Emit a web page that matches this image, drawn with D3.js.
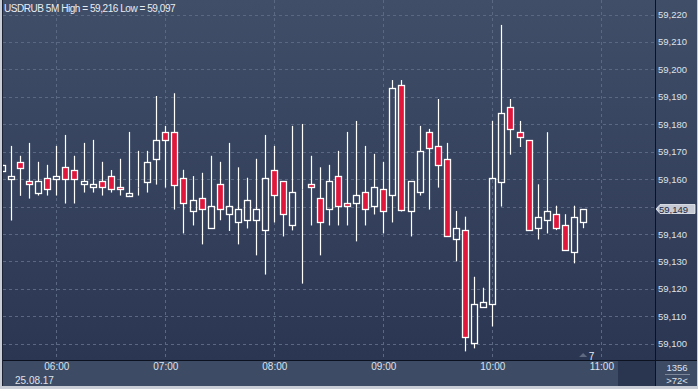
<!DOCTYPE html>
<html>
<head>
<meta charset="utf-8">
<script src="https://cdn.jsdelivr.net/npm/d3@7"></script>
<style>
  body { margin: 0; background: #c9cdd6; }
  text { font-family: "Liberation Sans", Arial, sans-serif; }
</style>
</head>
<body>
<div id="wrapper"></div>
<script>
// 5-minute candles, 25.08.17
const times = [
  "05:30","05:35","05:40","05:45","05:50","05:55",
  "06:00","06:05","06:10","06:15","06:20","06:25","06:30","06:35","06:40","06:45","06:50","06:55",
  "07:00","07:05","07:10","07:15","07:20","07:25","07:30","07:35","07:40","07:45","07:50","07:55",
  "08:00","08:05","08:10","08:15","08:20","08:25","08:30","08:35","08:40","08:45","08:50","08:55",
  "09:00","09:05","09:10","09:15","09:20","09:25","09:30","09:35","09:40","09:45","09:50","09:55",
  "10:00","10:05","10:10","10:15","10:20","10:25","10:30","10:35","10:40","10:45","10:50"
]
const opens = [
  59.1631,59.1602,59.1663,59.1593,59.1551,59.1603,
  59.1602,59.1643,59.1633,59.1582,59.1572,59.1593,59.1611,59.1572,59.1540,59.1571,59.1591,59.1672,
  59.1771,59.1771,59.1603,59.1483,59.1531,59.1421,59.1582,59.1472,59.1443,59.1450,59.1450,59.1414,
  59.1633,59.1593,59.1432,59.1565,59.1582,59.1531,59.1490,59.1611,59.1512,59.1512,59.1552,59.1501,
  59.1563,59.1541,59.1942,59.1483,59.1552,59.1771,59.1720,59.1673,59.1381,59.1414,59.1003,59.1134,
  59.1145,59.1591,59.1862,59.1771,59.1742,59.1421,59.1450,59.1472,59.1432,59.1334,59.1443
]
const highs = [
  59.1655,59.1721,59.1685,59.1732,59.1663,59.1652,
  59.1721,59.1761,59.1685,59.1732,59.1743,59.1663,59.1633,59.1674,59.1772,59.1703,59.1703,59.1903,
  59.1794,59.1913,59.1634,59.1611,59.1623,59.1685,59.1663,59.1732,59.1643,59.1605,59.1674,59.1761,
  59.1721,59.1593,59.1794,59.1801,59.1685,59.1643,59.1652,59.1703,59.1772,59.1812,59.1721,59.1692,
  59.1663,59.1961,59.1961,59.1592,59.1794,59.1783,59.1892,59.1732,59.1484,59.1463,59.1244,59.1204,
  59.1812,59.2162,59.1892,59.1812,59.1742,59.1581,59.1771,59.1503,59.1472,59.1503,59.1490
]
const lows = [
  59.1628,59.1449,59.1539,59.1529,59.1540,59.1540,
  59.1540,59.1511,59.1511,59.1551,59.1551,59.1540,59.1551,59.1540,59.1540,59.1540,59.1551,59.1580,
  59.1569,59.1489,59.1402,59.1431,59.1362,59.1421,59.1450,59.1411,59.1362,59.1420,59.1322,59.1252,
  59.1442,59.1391,59.1413,59.1219,59.1431,59.1322,59.1431,59.1431,59.1431,59.1373,59.1431,59.1471,
  59.1402,59.1442,59.1482,59.1391,59.1540,59.1489,59.1569,59.1391,59.1300,59.0972,59.0983,59.1134,
  59.1063,59.1500,59.1689,59.1717,59.1414,59.1380,59.1402,59.1414,59.1341,59.1293,59.1421
]
const closes = [
  59.1651,59.1611,59.1642,59.1582,59.1593,59.1563,
  59.1611,59.1602,59.1602,59.1593,59.1582,59.1572,59.1563,59.1563,59.1551,59.1572,59.1663,59.1742,
  59.1741,59.1580,59.1512,59.1523,59.1490,59.1501,59.1490,59.1501,59.1490,59.1523,59.1490,59.1603,
  59.1542,59.1472,59.1552,59.1565,59.1571,59.1443,59.1593,59.1501,59.1501,59.1543,59.1491,59.1571,
  59.1483,59.1931,59.1489,59.1592,59.1702,59.1713,59.1651,59.1392,59.1421,59.1024,59.1145,59.1152,
  59.1603,59.1840,59.1782,59.1753,59.1414,59.1461,59.1483,59.1421,59.1341,59.1461,59.1490
]
const priceTicks = [59.100,59.110,59.120,59.130,59.140,59.150,59.160,59.170,59.180,59.190,59.200,59.210,59.220]
const symbol = "USDRUB 5M"
const dateLabel = "25.08.17"
const lastPrice = 59.149
const barCount = "1356"
const zoomLabel = ">72<"
const markerLabel = "7"

function drawChart() {
  const parseTime = d3.timeParse("%H:%M")
  const dataset = times.map((t, i) => ({
    date: parseTime(t), open: opens[i], high: highs[i], low: lows[i], close: closes[i]
  }))

  const dimensions = {
    width: 698,
    height: 389,
    plotLeft: 3,
    plotRight: 655,
    plotTop: 0,
    plotBottom: 360,
    axisBottom: 386,
  }

  const wrapper = d3.select("#wrapper")
    .append("svg")
      .attr("width", dimensions.width)
      .attr("height", dimensions.height)
      .style("display", "block")

  const defs = wrapper.append("defs")
  const grad = defs.append("linearGradient").attr("id", "bg").attr("x1", 0).attr("x2", 0).attr("y1", 0).attr("y2", 1)
  grad.append("stop").attr("offset", "0%").attr("stop-color", "#404e68")
  grad.append("stop").attr("offset", "100%").attr("stop-color", "#2b3653")
  defs.append("clipPath").attr("id", "plot-clip")
    .append("rect")
      .attr("x", dimensions.plotLeft).attr("y", dimensions.plotTop)
      .attr("width", dimensions.plotRight - dimensions.plotLeft)
      .attr("height", dimensions.plotBottom - dimensions.plotTop)

  // panels
  wrapper.append("rect").attr("width", dimensions.width).attr("height", dimensions.height).attr("fill", "#c9cdd6")
  wrapper.append("rect")
    .attr("x", 2).attr("y", 0).attr("width", 695).attr("height", dimensions.axisBottom)
    .attr("fill", "#1b2233")
  wrapper.append("rect")
    .attr("x", dimensions.plotLeft).attr("y", 0)
    .attr("width", 694).attr("height", dimensions.plotBottom)
    .attr("fill", "url(#bg)")
  wrapper.append("rect")
    .attr("x", dimensions.plotLeft).attr("y", dimensions.plotBottom + 1)
    .attr("width", 694).attr("height", dimensions.axisBottom - dimensions.plotBottom - 1)
    .attr("fill", "#3e4b65")
  wrapper.append("rect")
    .attr("x", 618).attr("y", dimensions.plotBottom + 1)
    .attr("width", dimensions.plotRight - 618).attr("height", dimensions.axisBottom - dimensions.plotBottom - 1)
    .attr("fill", "#2a3550")
  wrapper.append("line")
    .attr("x1", dimensions.plotRight + 0.5).attr("x2", dimensions.plotRight + 0.5)
    .attr("y1", 0).attr("y2", dimensions.axisBottom)
    .attr("stroke", "#0d1220")
  wrapper.append("line")
    .attr("x1", dimensions.plotLeft).attr("x2", 697)
    .attr("y1", dimensions.plotBottom + 0.5).attr("y2", dimensions.plotBottom + 0.5)
    .attr("stroke", "#0d1220")

  // scales
  const t6 = parseTime("06:00")
  const xScale = d3.scaleTime()
    .domain([new Date(t6.getTime() - 31 * 60000), new Date(t6.getTime() + 329.56 * 60000)])
    .range([0, dimensions.plotRight])
  const yScale = d3.scaleLinear()
    .domain([59.100, 59.220])
    .range([343.7, 14.5])

  const hourTicks = xScale.ticks(d3.timeHour.every(1)).filter(d => xScale(d) > 10 && xScale(d) < 640)
  const priceFormat = v => d3.format(".3f")(v).replace(".", ",")

  // grid
  const grid = wrapper.append("g").attr("clip-path", "url(#plot-clip)")
  grid.selectAll(".hgrid").data(priceTicks).join("line")
    .attr("x1", dimensions.plotLeft).attr("x2", dimensions.plotRight)
    .attr("y1", d => Math.round(yScale(d)) + 0.5).attr("y2", d => Math.round(yScale(d)) + 0.5)
    .attr("stroke", "#5b6882").attr("stroke-dasharray", "3,3")
  grid.selectAll(".vgrid").data(hourTicks).join("line")
    .attr("x1", d => Math.round(xScale(d)) + 0.5).attr("x2", d => Math.round(xScale(d)) + 0.5)
    .attr("y1", 0).attr("y2", dimensions.plotBottom)
    .attr("stroke", "#5b6882").attr("stroke-dasharray", "3,3")

  // candles
  const bodyW = 6
  const candles = wrapper.append("g").attr("clip-path", "url(#plot-clip)")
    .selectAll("g").data(dataset).join("g")
  const cx = d => Math.round(xScale(d.date)) + 0.5
  const top = d => Math.round(yScale(Math.max(d.open, d.close))) + 0.5
  const bot = d => Math.round(yScale(Math.min(d.open, d.close))) + 0.5
  candles.append("line")
    .attr("x1", cx).attr("x2", cx)
    .attr("y1", d => yScale(d.high)).attr("y2", top)
    .attr("stroke", "#ffffff").attr("stroke-width", 1.2)
  candles.append("line")
    .attr("x1", cx).attr("x2", cx)
    .attr("y1", bot).attr("y2", d => yScale(d.low))
    .attr("stroke", "#ffffff").attr("stroke-width", 1.2)
  candles.append("rect")
    .attr("x", d => cx(d) - bodyW / 2)
    .attr("y", top)
    .attr("width", bodyW)
    .attr("height", d => bot(d) - top(d))
    .attr("fill", d => d.close < d.open ? "#e0173b" : "none")
    .attr("stroke", "#ffffff").attr("stroke-width", 1.3)

  // right price axis (the label under the last-price tag is hidden, as in the source)
  const ly = Math.round(yScale(lastPrice))
  const axisTicks = priceTicks.filter(v => Math.abs(yScale(v) - ly) > 8)
  const yAxis = d3.axisRight(yScale).tickValues(axisTicks).tickSize(0).tickPadding(3).tickFormat(priceFormat)
  const yAxisG = wrapper.append("g").attr("transform", `translate(${dimensions.plotRight}, 0)`).call(yAxis)
  yAxisG.select(".domain").remove()
  yAxisG.selectAll("text").attr("fill", "#dde2ea").style("font-size", "9.5px").style("font-family", "Liberation Sans, Arial")

  // bottom time axis
  const xAxis = d3.axisBottom(xScale).tickValues(hourTicks).tickSize(0).tickPadding(0).tickFormat(d3.timeFormat("%H:%M"))
  const xAxisG = wrapper.append("g").attr("transform", `translate(0, ${dimensions.plotBottom + 3})`).call(xAxis)
  xAxisG.select(".domain").remove()
  xAxisG.selectAll("text").attr("fill", "#dde2ea").style("font-size", "10px").style("font-family", "Liberation Sans, Arial")

  wrapper.append("text")
    .attr("x", 15).attr("y", 384)
    .attr("fill", "#dde2ea").style("font-size", "10px")
    .text(dateLabel)

  // title
  const lo = d3.min(lows), hi = d3.max(highs)
  wrapper.append("text")
    .attr("x", 4).attr("y", 12)
    .attr("fill", "#e8ecf2").style("font-size", "10px").style("letter-spacing", "-0.45px")
    .text(`${symbol} High = ${priceFormat(hi)} Low = ${priceFormat(lo)}`)

  // last price tag
  wrapper.append("path")
    .attr("d", `M656,${ly} L660,${ly - 4.5} L695,${ly - 4.5} L695,${ly + 4.5} L660,${ly + 4.5} Z`)
    .attr("fill", "#c5cad5").attr("stroke", "#eef1f6").attr("stroke-width", 0.8)
  wrapper.append("text")
    .attr("x", 659).attr("y", ly + 3.5)
    .attr("fill", "#1c2842").style("font-size", "9.5px")
    .text(priceFormat(lastPrice))

  // marker near bottom
  const mx = xScale(parseTime("10:50"))
  wrapper.append("path")
    .attr("d", `M${mx - 4},357 L${mx},353 L${mx + 4},357 Z`)
    .attr("fill", "#5f6a80")
  wrapper.append("text")
    .attr("x", mx + 5.5).attr("y", 359.5)
    .attr("fill", "#e8ecf2").style("font-size", "10px")
    .text(markerLabel)

  // bottom-right counters
  wrapper.append("text")
    .attr("x", 677).attr("y", 371).attr("text-anchor", "middle")
    .attr("fill", "#dde2ea").style("font-size", "9.5px")
    .text(barCount)
  wrapper.append("line")
    .attr("x1", 665).attr("x2", 690).attr("y1", 374.5).attr("y2", 374.5)
    .attr("stroke", "#7d879a")
  wrapper.append("text")
    .attr("x", 677).attr("y", 384).attr("text-anchor", "middle")
    .attr("fill", "#dde2ea").style("font-size", "9.5px")
    .text(zoomLabel)
}
drawChart()
</script>
</body>
</html>
